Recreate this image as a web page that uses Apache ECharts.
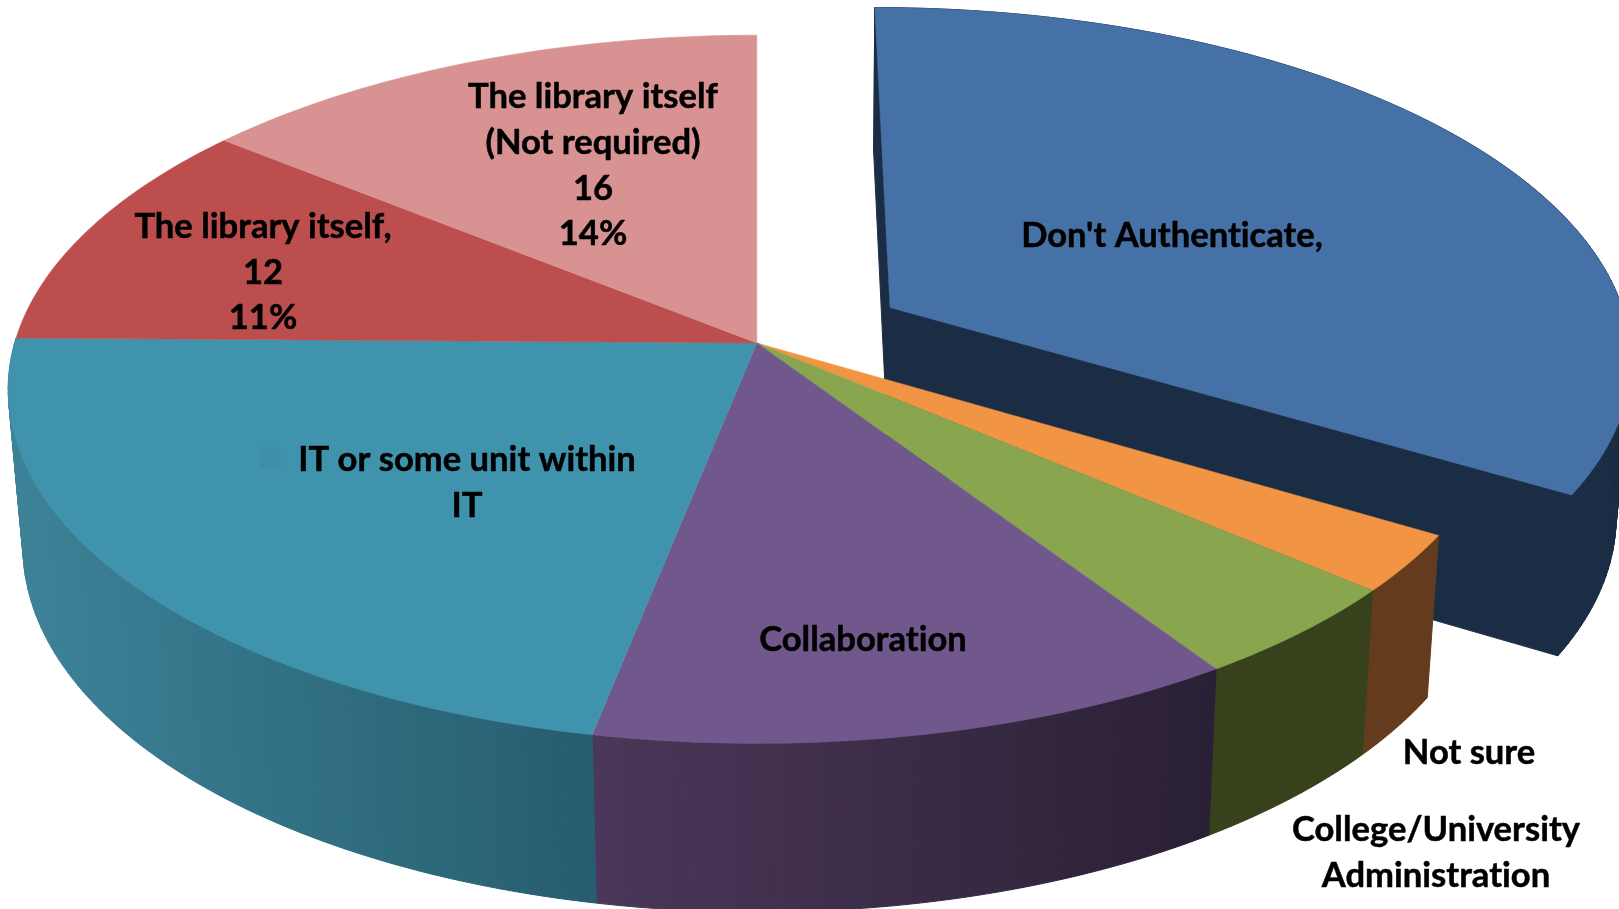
<!DOCTYPE html>
<html>
<head>
<meta charset="utf-8">
<title>Who handles authentication</title>
<style>
  html, body { margin: 0; padding: 0; background: #ffffff; overflow: hidden; }
  #chart { width: 1619px; height: 909px; }
</style>
<script src="https://cdn.jsdelivr.net/npm/echarts@6/dist/echarts.min.js"></script>
</head>
<body>
<div id="chart"></div>
<script>
// Slices, clockwise from twelve o'clock.
const categories = [
  "Don't Authenticate",
  "Not sure",
  "College/University\nAdministration",
  "Collaboration",
  "IT or some unit within\nIT",
  "The library itself",
  "The library itself\n(Not required)"
];
const seriesValues = [38, 3, 5, 14, 25, 12, 16];
const explodedShare = [0.209, 0, 0, 0, 0, 0, 0];

// Slice captions: which ones also state the count and the percentage.
const captionSuffix = [",", "", "", "", "", ",", ""];
const captionShowsValue = [false, false, false, false, false, true, true];
const captionCentres = [[1172, 235.5], [1469, 752.5], [1436, 852.5], [863, 639.5], [467, 482.5], [263, 272.5], [593, 165.5]];

const topColors = ['#4671a6', '#f19545', '#89a54e', '#71588c', '#4093ad', '#bc4f4e', '#d79291'];
const wallFrom = ['#1b2d45', '#643b1d', '#37421d', '#4a3759', '#3d8298', '#7a3232', '#8a5e5d'];
const wallTo = ['#1b2d45', '#643b1d', '#37421d', '#2a2035', '#265d6e', '#7a3232', '#8a5e5d'];

// Projection of the tilted disc onto the screen.
const view = { cx: 756.8, cy: 389.3, rx: 748.6, ry: 354.1, tilt: 0.131 };
const base = { vanishX: 816.7, lean: 0.0183, stretch: 1.031, drop: 145.6 };
const FONT = 'bold 34.6px Lato, "Open Sans", sans-serif';
const LINE_HEIGHT = 45.8;

// Captions are set with plain glyph shaping, without ligatures.
const nativeGetContext = HTMLCanvasElement.prototype.getContext;
HTMLCanvasElement.prototype.getContext = function (kind, options) {
  const ctx = nativeGetContext.call(this, kind, options);
  if (ctx && kind === '2d') ctx.textRendering = 'optimizeSpeed';
  return ctx;
};

const total = seriesValues.reduce((a, b) => a + b, 0);

// Unit-disc point (u to the right, v toward the viewer) to its place on the top face.
function projectTop(u, v) {
  const s = Math.sqrt(1 - view.tilt * view.tilt);
  const den = 1 - view.tilt * v;
  return [view.cx + view.rx * u * s / den, view.cy + view.ry * (v - view.tilt) / den];
}
// The same point on the bottom face of the pie.
function toBase(p) {
  return [p[0] + (base.vanishX - p[0]) * base.lean, p[1] * base.stretch + base.drop];
}
function mixColor(from, to, t) {
  const c = [1, 3, 5].map(i => {
    const a = parseInt(from.substr(i, 2), 16);
    const b = parseInt(to.substr(i, 2), 16);
    return Math.round(a + (b - a) * t);
  });
  return 'rgb(' + c.join(',') + ')';
}

// Start angle of a slice, in radians clockwise from the top.
function sliceStart(index) {
  let before = 0;
  for (let i = 0; i < index; i++) before += seriesValues[i];
  return before / total * 2 * Math.PI;
}

function renderSlice(params, api) {
  const i = api.value(0);
  const value = api.value(1);
  const share = api.value(2);
  const a0 = sliceStart(i);
  const a1 = a0 + value / total * 2 * Math.PI;
  const mid = (a0 + a1) / 2;
  const du = share * Math.sin(mid);
  const dv = -share * Math.cos(mid);
  const steps = Math.max(4, Math.ceil((a1 - a0) / (Math.PI / 180)));

  const apex = projectTop(du, dv);
  const arc = [];
  for (let k = 0; k <= steps; k++) {
    const a = a0 + (a1 - a0) * k / steps;
    arc.push(projectTop(du + Math.sin(a), dv - Math.cos(a)));
  }

  const children = [];
  const polygon = (points, fill, stroke) => children.push({
    type: 'polygon',
    shape: { points },
    style: { fill, stroke: fill, lineWidth: stroke }
  });

  // Outer wall, built of narrow strips so it can shade from left to right.
  const front = a1 > Math.PI / 2 && a0 < 1.5 * Math.PI + 0.01 || share > 0;
  if (front) {
    const xs = arc.map(p => p[0]);
    const minX = Math.min.apply(null, xs);
    const maxX = Math.max.apply(null, xs);
    for (let k = 0; k < steps; k++) {
      const t = (arc[k][0] + arc[k + 1][0]) / 2;
      const color = mixColor(wallFrom[i], wallTo[i], (t - minX) / Math.max(1, maxX - minX));
      polygon([arc[k], arc[k + 1], toBase(arc[k + 1]), toBase(arc[k])], color, 1);
    }
  }
  // Cut faces are only seen on the slice pulled away from the pie.
  if (share > 0) {
    [arc[0], arc[steps]].forEach(p => {
      polygon([apex, p, toBase(p), toBase(apex)], wallFrom[i], 1);
    });
  }
  // Top face.
  polygon([apex].concat(arc), topColors[i], 0.5);
  return { type: 'group', children };
}

function renderCaption(params, api) {
  const i = api.value(0);
  const value = api.value(1);
  let text = categories[i] + captionSuffix[i];
  if (captionShowsValue[i]) {
    text += '\n' + value + '\n' + Math.round(value / total * 100) + '%';
  }
  const [x, y] = captionCentres[i];
  const children = [{
    type: 'text',
    style: {
      text, x, y,
      fill: '#000000',
      stroke: '#000000',
      lineWidth: 0.5,
      font: FONT,
      align: 'center',
      verticalAlign: 'middle',
      lineHeight: LINE_HEIGHT
    }
  }];
  // The small legend key kept beside the IT caption.
  if (i === 4) {
    children.push({
      type: 'rect',
      shape: { x: 260, y: 447, width: 21, height: 21 },
      style: { fill: '#3e8ea8' }
    });
  }
  return { type: 'group', children };
}

const sliceRows = seriesValues.map((v, i) => [i, v, explodedShare[i]]);

const chart = echarts.init(document.getElementById('chart'), null, { renderer: 'canvas' });
chart.setOption({
  animation: false,
  backgroundColor: '#ffffff',
  series: [
    { type: 'custom', coordinateSystem: 'none', silent: true, z: 1, renderItem: renderSlice, data: sliceRows },
    { type: 'custom', coordinateSystem: 'none', silent: true, z: 2, renderItem: renderCaption, data: sliceRows }
  ]
});
</script>
</body>
</html>
